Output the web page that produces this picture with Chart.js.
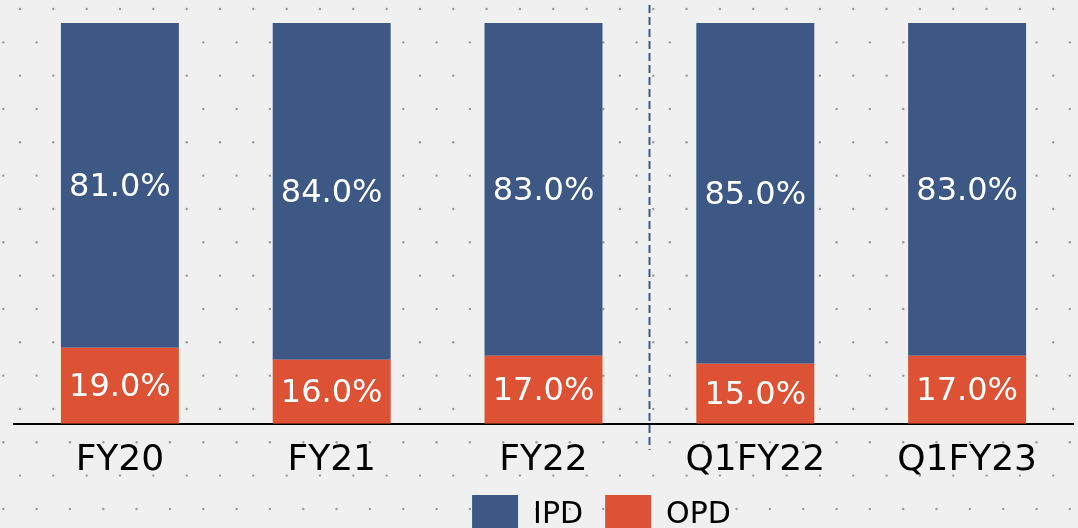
<!DOCTYPE html>
<html>
<head>
<meta charset="utf-8">
<script src="https://cdn.jsdelivr.net/npm/chart.js@4/dist/chart.umd.min.js"></script>
<style>
  html, body { margin: 0; padding: 0; overflow: hidden; background: #f0f0f0; }
  #wrap { width: 1078px; height: 561px; position: relative; }
</style>
</head>
<body>
<div id="wrap"><canvas id="chart"></canvas></div>
<script>
const categories = ['FY20', 'FY21', 'FY22', 'Q1FY22', 'Q1FY23'];
const ipd = [81.0, 84.0, 83.0, 85.0, 83.0];
const opd = [19.0, 16.0, 17.0, 15.0, 17.0];

const BLUE = '#3e5885';
const ORANGE = '#dd5234';
const FONT = "'DejaVu Sans', sans-serif";

// dotted paper background
const paper = {
  id: 'paper',
  beforeDraw(chart) {
    const ctx = chart.ctx;
    ctx.save();
    ctx.fillStyle = '#f0f0f0';
    ctx.fillRect(0, 0, chart.width, chart.height);
    ctx.fillStyle = '#9a9a9a';
    const step = 33.33;
    for (let r = 0; r * step < chart.height + step; r++) {
      const y = 9 + r * step;
      const off = r % 2 === 0 ? 20 : 3.3;
      for (let x = off; x < chart.width; x += step) {
        ctx.beginPath();
        ctx.arc(x, y, 1.2, 0, Math.PI * 2);
        ctx.fill();
      }
    }
    ctx.restore();
  }
};

// dashed divider between annual and quarterly bars
const divider = {
  id: 'divider',
  afterDatasetsDraw(chart) {
    const xs = chart.scales.x;
    const x = Math.round((xs.getPixelForValue(2) + xs.getPixelForValue(3)) / 2) + 0.5;
    const ctx = chart.ctx;
    ctx.save();
    ctx.strokeStyle = BLUE;
    ctx.lineWidth = 2;
    ctx.setLineDash([8, 4]);
    ctx.beginPath();
    ctx.moveTo(x, 5);
    ctx.lineTo(x, 450);
    ctx.stroke();
    ctx.restore();
  }
};

// value labels inside the segments
const valueLabels = {
  id: 'valueLabels',
  afterDatasetsDraw(chart) {
    const ctx = chart.ctx;
    ctx.save();
    ctx.fillStyle = '#ffffff';
    ctx.font = '32px ' + FONT;
    ctx.textAlign = 'center';
    ctx.textBaseline = 'middle';
    chart.data.datasets.forEach((ds, i) => {
      chart.getDatasetMeta(i).data.forEach((bar, j) => {
        ctx.fillText(ds.data[j].toFixed(1) + '%', bar.x, (bar.y + bar.base) / 2 + 2);
      });
    });
    ctx.restore();
  }
};

// legend sits right of centre and a bit higher in the original
const legendShift = {
  id: 'legendShift',
  afterLayout(chart) {
    const lg = chart.legend;
    lg.left += 58; lg.right += 58;
    lg.top -= 16; lg.bottom -= 16;
  }
};

new Chart(document.getElementById('chart'), {
  type: 'bar',
  data: {
    labels: categories,
    datasets: [
      { label: 'OPD', data: opd, backgroundColor: ORANGE },
      { label: 'IPD', data: ipd, backgroundColor: BLUE }
    ]
  },
  options: {
    responsive: true,
    maintainAspectRatio: false,
    animation: false,
    datasets: { bar: { categoryPercentage: 1, barPercentage: 0.557 } },
    layout: { padding: { top: 23, left: 14, right: 5, bottom: 0 } },
    plugins: {
      legend: {
        position: 'bottom',
        reverse: true,
        labels: { boxWidth: 46, boxHeight: 40, padding: 22, color: '#000', font: { family: FONT, size: 30 } }
      },
      tooltip: { enabled: false }
    },
    scales: {
      x: {
        stacked: true,
        grid: { display: false },
        border: { color: '#000', width: 2 },
        ticks: { color: '#000', padding: 7, font: { family: FONT, size: 36 } }
      },
      y: { stacked: true, display: false, min: 0, max: 100 }
    }
  },
  plugins: [paper, divider, valueLabels, legendShift]
});
</script>
</body>
</html>
